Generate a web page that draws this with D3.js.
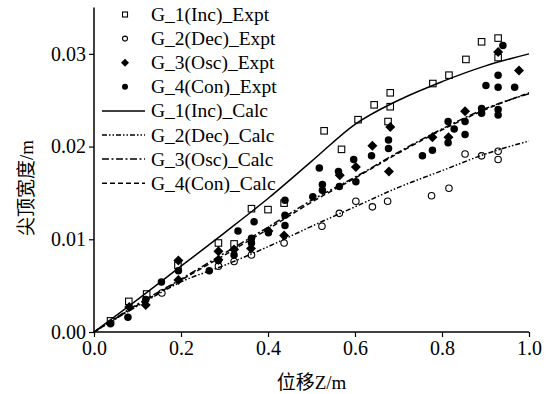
<!DOCTYPE html>
<html>
<head>
<meta charset="utf-8">
<script src="https://cdn.jsdelivr.net/npm/d3@7"></script>
<style>
body { margin: 0; background: #fff; }
svg { display: block; }
</style>
</head>
<body>
<svg id="chart" width="549" height="394"></svg>
<script>
// measured data (x = displacement Z/m, y = tip width/m)
var g1ExptX = [0.038, 0.080, 0.121, 0.193, 0.286, 0.322, 0.362, 0.400, 0.437, 0.529, 0.569, 0.607, 0.644, 0.676, 0.681, 0.681, 0.779, 0.816, 0.855, 0.891, 0.929, 0.929]
var g1ExptY = [0.0012, 0.0033, 0.0041, 0.0072, 0.0096, 0.0095, 0.0133, 0.0132, 0.0139, 0.0217, 0.0197, 0.0229, 0.0245, 0.0227, 0.0258, 0.0243, 0.0268, 0.0277, 0.0294, 0.0313, 0.0317, 0.0296]

var g2ExptX = [0.156, 0.286, 0.322, 0.362, 0.437, 0.524, 0.564, 0.602, 0.640, 0.675, 0.776, 0.816, 0.853, 0.891, 0.929, 0.929]
var g2ExptY = [0.0042, 0.0071, 0.0076, 0.0083, 0.0096, 0.0114, 0.0128, 0.0141, 0.0135, 0.0141, 0.0147, 0.0155, 0.0192, 0.0190, 0.0195, 0.0186]

var g3ExptX = [0.081, 0.119, 0.194, 0.194, 0.286, 0.286, 0.322, 0.361, 0.401, 0.437, 0.565, 0.602, 0.640, 0.678, 0.681, 0.778, 0.815, 0.853, 0.929, 0.977]
var g3ExptY = [0.0027, 0.0029, 0.0077, 0.0056, 0.0087, 0.0078, 0.0089, 0.0090, 0.0109, 0.0104, 0.0169, 0.0178, 0.0201, 0.0173, 0.0221, 0.0210, 0.0210, 0.0238, 0.0302, 0.0282]

var g4ExptX = [0.038, 0.078, 0.119, 0.155, 0.194, 0.265, 0.286, 0.322, 0.331, 0.368, 0.362, 0.362, 0.401, 0.439, 0.439, 0.439, 0.503, 0.518, 0.525, 0.525, 0.562, 0.564, 0.597, 0.602, 0.638, 0.677, 0.677, 0.755, 0.778, 0.814, 0.814, 0.828, 0.853, 0.853, 0.891, 0.891, 0.929, 0.929, 0.901, 0.929, 0.929, 0.967, 0.940]
var g4ExptY = [0.0009, 0.0016, 0.0035, 0.0054, 0.0066, 0.0066, 0.0077, 0.0083, 0.0109, 0.0119, 0.0101, 0.0096, 0.0107, 0.0142, 0.0126, 0.0115, 0.0146, 0.0177, 0.0159, 0.0153, 0.0173, 0.0157, 0.0186, 0.0162, 0.0190, 0.0207, 0.0198, 0.0190, 0.0196, 0.0227, 0.0204, 0.0219, 0.0227, 0.0213, 0.0241, 0.0236, 0.0240, 0.0234, 0.0266, 0.0277, 0.0264, 0.0264, 0.0309]

// calculated curves
var calcX  = [0, 0.1, 0.2, 0.3, 0.4, 0.5, 0.6, 0.7, 0.8, 0.9, 1.0]
var g1Calc = [0, 0.0035, 0.0071, 0.0107, 0.0144, 0.0184, 0.0224, 0.0250, 0.0270, 0.0287, 0.0300]
var g2Calc = [0, 0.0028, 0.0054, 0.0072, 0.0092, 0.0114, 0.0135, 0.0156, 0.0174, 0.0192, 0.0206]
var g3Calc = [0, 0.0030, 0.0057, 0.0085, 0.0113, 0.0142, 0.0167, 0.0194, 0.0219, 0.0241, 0.0257]
var g4Calc = [0, 0.0029, 0.0056, 0.0083, 0.0111, 0.0140, 0.0166, 0.0193, 0.0218, 0.0240, 0.0258]

var xTicks = [0, 0.2, 0.4, 0.6, 0.8, 1.0]
var xMinor = [0.1, 0.3, 0.5, 0.7, 0.9]
var yTicks = [0, 0.01, 0.02, 0.03]
var yMinor = [0.005, 0.015, 0.025, 0.035]

var legendLabels = ['G_1(Inc)_Expt', 'G_2(Dec)_Expt', 'G_3(Osc)_Expt', 'G_4(Con)_Expt',
                    'G_1(Inc)_Calc', 'G_2(Dec)_Calc', 'G_3(Osc)_Calc', 'G_4(Con)_Calc']

var FONT = "'Liberation Serif', 'Noto Sans CJK SC', serif"

var svg = d3.select('#chart')
var x = d3.scaleLinear().domain([0, 1]).range([94, 529])
var y = d3.scaleLinear().domain([0, 0.035]).range([332, 7.5])

//axes
var gx = svg.append('g').attr('transform', 'translate(0,332)')
gx.call(d3.axisBottom(x).tickValues(xMinor).tickSize(3).tickFormat(''))
gx.call(d3.axisBottom(x).tickValues(xTicks).tickSize(5).tickPadding(4).tickFormat(d3.format('.1f')))
var gy = svg.append('g').attr('transform', 'translate(94,0)')
gy.call(d3.axisLeft(y).tickValues(yMinor).tickSize(3).tickFormat(''))
gy.call(d3.axisLeft(y).tickValues(yTicks).tickSize(5).tickPadding(3).tickFormat(d3.format('.2f')))
svg.selectAll('.domain').attr('stroke-width', 1.5).attr('d', null)
gx.selectAll('.domain').attr('d', 'M94,0H529')
gy.selectAll('.domain').attr('d', 'M0,332V7.5')
svg.selectAll('.tick line').attr('stroke-width', 1.2)
svg.selectAll('.tick text').style('font-family', FONT).style('font-size', '20px').attr('fill', '#000')

svg.append('text').attr('x', 311.5).attr('y', 389).attr('text-anchor', 'middle')
  .style('font-family', FONT).style('font-size', '19px').text('位移Z/m')
svg.append('text').attr('transform', 'translate(33,188) rotate(-90)').attr('text-anchor', 'middle')
  .style('font-family', FONT).style('font-size', '19px').text('尖顶宽度/m')

function pts(xs, ys) { return xs.map(function(v, i) { return [v, ys[i]] }) }

//markers
var shapes = {
  square: function(g, s) { g.append('rect').attr('x', -s/2).attr('y', -s/2).attr('width', s).attr('height', s)
    .attr('fill', 'none').attr('stroke', '#000').attr('stroke-width', 1.1) },
  circle: function(g, s) { g.append('circle').attr('r', s/2).attr('fill', 'none').attr('stroke', '#000').attr('stroke-width', 1.1) },
  diamond: function(g, s) { g.append('path').attr('d', 'M0,' + (-s/2) + 'L' + (s/2) + ',0L0,' + (s/2) + 'L' + (-s/2) + ',0Z').attr('fill', '#000') },
  dot: function(g, s) { g.append('circle').attr('r', s/2).attr('fill', '#000') }
}
var expt = [
  {data: pts(g1ExptX, g1ExptY), shape: 'square', size: 6.5, lsize: 5},
  {data: pts(g2ExptX, g2ExptY), shape: 'circle', size: 6.5, lsize: 5},
  {data: pts(g3ExptX, g3ExptY), shape: 'diamond', size: 10, lsize: 8},
  {data: pts(g4ExptX, g4ExptY), shape: 'dot', size: 7.5, lsize: 6}
]
expt.forEach(function(s) {
  svg.append('g').selectAll('g').data(s.data).enter().append('g')
    .attr('transform', function(d) { return 'translate(' + x(d[0]) + ',' + y(d[1]) + ')' })
    .each(function() { shapes[s.shape](d3.select(this), s.size) })
})

//calc lines
var calc = [
  {vals: g1Calc, dash: null},
  {vals: g2Calc, dash: '5,2,1.5,2,1.5,2'},
  {vals: g3Calc, dash: '7,2.5,2,2.5'},
  {vals: g4Calc, dash: '5,3'}
]
var line = d3.line().x(function(d) { return x(d[0]) }).y(function(d) { return y(d[1]) }).curve(d3.curveMonotoneX)
calc.forEach(function(c) {
  svg.append('path').datum(pts(calcX, c.vals)).attr('d', line)
    .attr('fill', 'none').attr('stroke', '#000').attr('stroke-width', 1.5)
    .attr('stroke-dasharray', c.dash)
})

//legend
var lg = svg.append('g')
legendLabels.forEach(function(t, i) {
  var cy = 14.5 + i * 24.1
  var row = lg.append('g').attr('transform', 'translate(0,' + cy + ')')
  if (i < 4) {
    var s = expt[i]
    var m = row.append('g').attr('transform', 'translate(125,0)')
    shapes[s.shape](m, s.lsize)
  } else {
    row.append('line').attr('x1', 102).attr('x2', 145).attr('y1', 0).attr('y2', 0)
      .attr('stroke', '#000').attr('stroke-width', 1.5).attr('stroke-dasharray', calc[i - 4].dash)
  }
  row.append('text').attr('x', 151).attr('y', 6.5)
    .style('font-family', FONT).style('font-size', '19.5px').text(t)
})
</script>
</body>
</html>
